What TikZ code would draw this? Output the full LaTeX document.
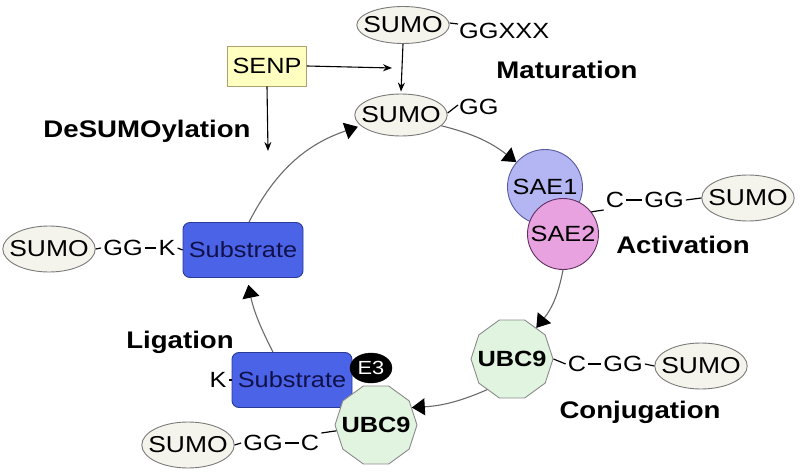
\documentclass[tikz,border=0pt]{standalone}
\usepackage{fontspec}
\setmainfont{Liberation Sans}[FakeStretch=1.15]
\usetikzlibrary{shapes.geometric,arrows.meta}
\definecolor{sumofill}{HTML}{F4F4EC}
\definecolor{sumoline}{HTML}{7A7A7A}
\definecolor{senpfill}{HTML}{FFFFC0}
\definecolor{senpline}{HTML}{B0A070}
\definecolor{sae1fill}{HTML}{B4B6F4}
\definecolor{sae1line}{HTML}{5A5AA0}
\definecolor{sae2fill}{HTML}{E8A2E0}
\definecolor{sae2line}{HTML}{603060}
\definecolor{ubcfill}{HTML}{E0F4E0}
\definecolor{ubcline}{HTML}{8A8A8A}
\definecolor{subfill}{HTML}{4B63E6}
\definecolor{subline}{HTML}{2A3A9A}
\definecolor{subtext}{HTML}{10104A}
\definecolor{cycle}{HTML}{6A6A6A}
\tikzset{
  lbl/.style={font=\fontsize{24}{28}\selectfont\bfseries},
  sumo/.style={ellipse, draw=sumoline, fill=sumofill, line width=0.9pt,
    inner xsep=-7pt, inner ysep=-4pt,
    minimum width=90pt, minimum height=44pt, font=\fontsize{23}{27}\selectfont},
  txt/.style={inner sep=2pt, font=\fontsize{22}{26}\selectfont},
  senpbox/.style={rectangle, draw=senpline, fill=senpfill, line width=0.9pt,
    minimum width=79pt, minimum height=40pt, inner sep=0pt, font=\fontsize{22}{26}\selectfont},
  sae1/.style={circle, draw=sae1line, fill=sae1fill, line width=0.9pt, minimum size=75pt, inner sep=0pt,
    font=\fontsize{22}{26}\selectfont},
  sae2/.style={circle, draw=sae2line, fill=sae2fill, line width=0.9pt, minimum size=71pt, inner sep=0pt,
    font=\fontsize{22}{26}\selectfont},
  ubc/.style={regular polygon, regular polygon sides=10, draw=ubcline, fill=ubcfill, line width=0.9pt,
    minimum size=82pt, inner sep=0pt,
    label={[font=\fontsize{22}{26}\selectfont\bfseries, inner sep=0pt]center:UBC9}},
  subbox/.style={rectangle, rounded corners=7pt, draw=subline, fill=subfill, line width=0.9pt,
    minimum width=120pt, minimum height=55pt, inner sep=0pt, text=subtext,
    font=\fontsize{22}{26}\selectfont},
  e3/.style={ellipse, fill=black, draw=black, minimum width=42pt, minimum height=30pt, inner sep=-2pt,
    text=white, font=\fontsize{19}{22}\selectfont},
  cyc/.style={draw=cycle, line width=1.1pt, -{Triangle[length=13pt,width=17pt,fill=black,color=black]}},
  blk/.style={draw=black, line width=1.1pt, -{Stealth[length=9pt,width=7pt]}},
  bond/.style={draw=black, line width=1.2pt},
}
\begin{document}
\begin{tikzpicture}[x=1pt,y=-1pt]
\useasboundingbox (0,0) rectangle (800,476);

% Maturation
\node[sumo, minimum height=37pt] (sumo1) at (403,25) {SUMO};
\node[txt, anchor=west, inner sep=0pt] (ggxxx) at (459,31) {GGXXX};
\draw[bond] ([yshift=2pt]sumo1.east) -- ([yshift=7pt, xshift=-1pt]ggxxx.west);
\node[sumo, minimum height=42pt] (sumo2) at (401,115) {SUMO};
\node[txt, anchor=west, inner sep=0pt] (gg2) at (459,107) {GG};
\draw[bond] ([yshift=2pt]sumo2.east) -- ([yshift=2pt, xshift=-1pt]gg2.west);
\node[senpbox] (senp) at (267,66) {SENP};
\coordinate (senpin) at (392,68);
\coordinate (senpdown) at (268,151);
\draw[blk] (senp.east) -- (senpin);
\draw[blk] (senp.south) -- (senpdown);
\draw[blk] (sumo1.south) -- ([yshift=2pt]sumo2.north);
\node[lbl] (lmat) at (567,70) {Maturation};
\node[lbl] (ldesumo) at (147,131) {DeSUMOylation};

% Activation
\node[sae1] (sae1) at (545,187) {SAE1};
\node[sae2] (sae2) at (563,234) {SAE2};
\node[txt] (ac) at (615,200) {C};
\node[txt] (agg) at (664,200) {GG};
\node[sumo, minimum height=46pt] (asumo) at (748,198) {SUMO};
\draw[bond] (sae2.38) -- (ac.south west);
\draw[bond] (ac.east) -- (agg.west);
\draw[bond] (agg.east) -- (asumo.west);
\node[lbl] (lact) at (683,245) {Activation};

% Conjugation
\node[ubc] (ubcr) at (512,359) {};
\node[txt] (cc) at (577,364) {C};
\node[txt] (cgg) at (623,364) {GG};
\node[sumo, minimum height=46pt] (csumo) at (701,366) {SUMO};
\draw[bond] (ubcr.east) -- (cc.west);
\draw[bond] (cc.east) -- (cgg.west);
\draw[bond] (cgg.east) -- (csumo.west);
\node[lbl] (lconj) at (640,412) {Conjugation};

% Ligation
\node[subbox] (lsub) at (292,380) {Substrate};
\node[ubc] (ubcl) at (376,425) {};
\node[e3] (e3) at (371,368) {E3};
\node[txt] (lk) at (218,380) {K};
\draw[bond] (lk.east) -- (lsub.west);
\node[sumo, minimum height=46pt] (bsumo) at (188,445) {SUMO};
\node[txt] (bgg) at (263,443) {GG};
\node[txt] (bc) at (310,443) {C};
\draw[bond] (bsumo.east) -- (bgg.west);
\draw[bond] (bgg.east) -- (bc.west);
\draw[bond] (bc.north east) -- (ubcl);
\node[lbl] (llig) at (180,342) {Ligation};

% Modified substrate
\node[subbox] (msub) at (243,250) {Substrate};
\node[txt] (mk) at (167,248) {K};
\node[txt] (mgg) at (123,248) {GG};
\node[sumo, minimum height=46pt] (msumo) at (49,249) {SUMO};
\draw[bond] (msumo.east) -- (mgg.west);
\draw[bond] (mgg.east) -- (mk.west);
\draw[bond] (mk.east) -- (msub.west);

% Cycle
\draw[cyc] (sumo2.-15) to[bend left=12] (sae1.139);
\draw[cyc] (sae2.south) to[bend left=14] (ubcr.52);
\draw[cyc] (ubcr.231) to[bend left=10] (ubcl.26);
\draw[cyc, shorten >=7pt] ([xshift=-19pt]lsub.north) to[bend left=8] ([xshift=4pt]msub.south);
\draw[cyc, shorten >=3pt] ([xshift=6pt]msub.north) to[bend left=22] (sumo2.195);
\end{tikzpicture}
\end{document}
